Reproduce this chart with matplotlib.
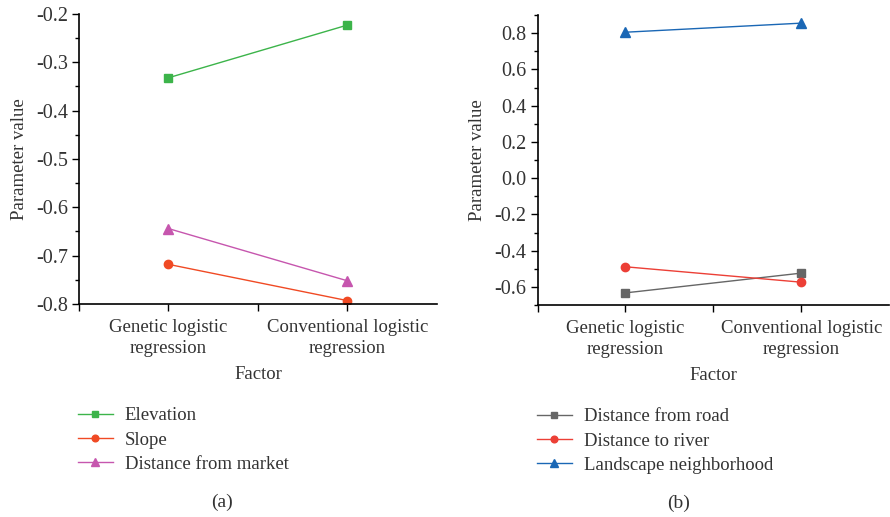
import matplotlib
matplotlib.use("Agg")
import matplotlib.pyplot as plt
from matplotlib.ticker import MultipleLocator

plt.rcParams['font.family'] = ['Liberation Serif', 'DejaVu Serif']

methods = ['Genetic logistic\nregression', 'Conventional logistic\nregression']

# panel (a)
elevation = [-0.332, -0.223]
slope = [-0.718, -0.793]
market = [-0.644, -0.752]

# panel (b)
road = [-0.633, -0.524]
river = [-0.489, -0.574]
landscape = [0.805, 0.855]

fig = plt.figure(figsize=(8.9, 5.17), dpi=100)
ax1 = fig.add_axes([0.0888, 0.412, 0.402, 0.561])
ax2 = fig.add_axes([0.604, 0.410, 0.395, 0.561])

x = [0, 1]
ax1.plot(x, elevation, color='#3cb44a', marker='s', ms=5.5, lw=1, label='Elevation')
ax1.plot(x, slope, color='#f04a24', marker='o', ms=6, lw=1, label='Slope')
ax1.plot(x, market, color='#c656ae', marker='^', ms=6.5, lw=1, label='Distance from market')
ax1.set_ylim(-0.8, -0.2)
ax1.set_yticks([-0.8, -0.7, -0.6, -0.5, -0.4, -0.3, -0.2])
ax1.set_yticklabels(['-0.8', '-0.7', '-0.6', '-0.5', '-0.4', '-0.3', '-0.2'])
ax1.yaxis.set_minor_locator(MultipleLocator(0.05))

ax2.plot(x, road, color='#666666', marker='s', ms=5.5, lw=1, label='Distance from road')
ax2.plot(x, river, color='#ec3f36', marker='o', ms=6, lw=1, label='Distance to river')
ax2.plot(x, landscape, color='#1a67b5', marker='^', ms=6.5, lw=1, label='Landscape neighborhood')
ax2.set_ylim(-0.7, 0.9)
ax2.set_yticks([-0.6, -0.4, -0.2, 0.0, 0.2, 0.4, 0.6, 0.8])
ax2.set_yticklabels(['-0.6', '-0.4', '-0.2', '0.0', '0.2', '0.4', '0.6', '0.8'])
ax2.yaxis.set_minor_locator(MultipleLocator(0.1))

for ax, tag in [(ax1, '(a)'), (ax2, '(b)')]:
    ax.set_xlim(-0.5, 1.5)
    ax.set_xticks(x)
    ax.set_xticklabels(methods, fontsize=13.5, color='#333333', linespacing=1.25)
    ax.set_xticks([-0.5, 0.5], minor=True)
    ax.spines['top'].set_visible(False)
    ax.spines['right'].set_visible(False)
    ax.spines['left'].set_linewidth(1.2)
    ax.spines['bottom'].set_linewidth(1.2)
    ax.tick_params(axis='both', which='major', direction='out', length=5, width=1,
                   labelcolor='#333333')
    ax.tick_params(axis='y', which='major', labelsize=14.5, pad=3)
    ax.tick_params(axis='x', which='major', pad=6)
    ax.tick_params(axis='both', which='minor', direction='out', length=3, width=1)
    ax.tick_params(axis='x', which='minor', length=5)
    ax.set_xlabel('Factor', fontsize=13.5, color='#333333', labelpad=7)
    ax.set_ylabel('Parameter value', fontsize=13.5, color='#333333', labelpad=6)
    leg = ax.legend(loc='upper left', bbox_to_anchor=(-0.05, -0.298), frameon=False,
                    fontsize=13.5, handlelength=1.85, handletextpad=0.65, labelspacing=0.38,
                    markerscale=0.8)
    for t in leg.get_texts():
        t.set_color('#333333')
    ax.text(0.4, -0.683, tag, transform=ax.transAxes, ha='center', va='center',
            fontsize=14, color='#333333')

fig.savefig('out.png', dpi=100)
